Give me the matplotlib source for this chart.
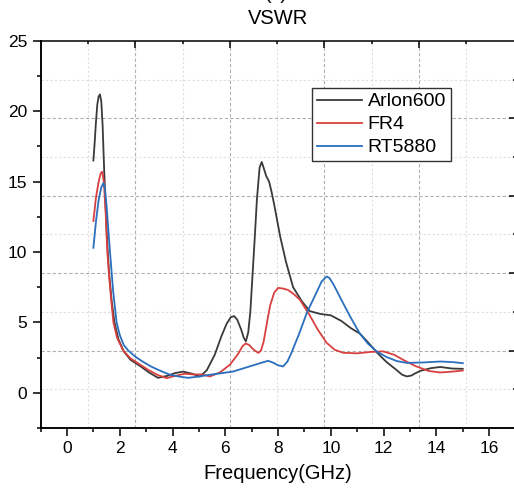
import numpy as np
import matplotlib.pyplot as plt

plt.rcParams['font.family'] = ['Liberation Sans', 'DejaVu Sans']

# VSWR curves (frequency in GHz)
arlon_f = [1.0, 1.05, 1.1, 1.15, 1.2, 1.25, 1.3, 1.35, 1.4, 1.45, 1.5, 1.55, 1.6, 1.7,
           1.8, 1.95, 2.15, 2.4, 2.77, 3.1, 3.45, 3.8, 4.1, 4.4, 4.75, 5.04, 5.3,
           5.6, 5.85, 6.05, 6.2, 6.33, 6.45, 6.6, 6.7, 6.78, 6.87, 6.95, 7.1, 7.2,
           7.3, 7.38, 7.45, 7.55, 7.66, 7.75, 7.85, 8.08, 8.3, 8.57, 8.9, 9.2,
           9.6, 10.0, 10.4, 10.75, 11.1, 11.45, 11.75, 12.1, 12.5, 12.7, 12.88,
           13.05, 13.2, 13.4, 13.8, 14.15, 14.6, 15.0]
arlon_v = [16.5, 17.8, 19.3, 20.5, 21.05, 21.2, 20.7, 19.0, 16.3, 13.8, 11.6, 9.8, 8.4, 6.4,
           5.0, 3.8, 2.95, 2.35, 1.9, 1.45, 1.06, 1.2, 1.4, 1.5, 1.35, 1.15, 1.6,
           2.7, 4.0, 4.9, 5.35, 5.45, 5.2, 4.5, 3.9, 3.65, 4.3, 5.8, 10.5, 13.8,
           16.0, 16.4, 16.0, 15.4, 15.0, 14.3, 13.4, 11.1, 9.3, 7.5, 6.5, 5.8,
           5.6, 5.5, 5.1, 4.6, 4.2, 3.5, 2.85, 2.2, 1.6, 1.28, 1.16,
           1.22, 1.38, 1.56, 1.75, 1.83, 1.72, 1.7]

fr4_f = [1.0, 1.1, 1.2, 1.28, 1.34, 1.4, 1.46, 1.53, 1.6, 1.68, 1.76, 1.9, 2.13, 2.4,
         2.77, 3.1, 3.45, 3.78, 4.1, 4.47, 4.8, 5.1, 5.42, 5.8, 6.18, 6.5, 6.65,
         6.77, 6.9, 7.05, 7.25, 7.35, 7.45, 7.6, 7.7, 7.85, 8.0, 8.2, 8.38, 8.6,
         8.83, 9.2, 9.5, 9.84, 10.15, 10.47, 11.0, 11.5, 11.98, 12.4, 12.74, 13.2,
         13.7, 14.14, 14.6, 15.0]
fr4_v = [12.2, 13.9, 15.0, 15.6, 15.7, 14.9, 13.0, 10.0, 8.2, 6.5, 5.0, 3.9, 3.0, 2.45,
         2.0, 1.6, 1.25, 1.04, 1.2, 1.35, 1.3, 1.3, 1.16, 1.45, 2.0, 2.8, 3.3,
         3.5, 3.4, 3.1, 2.83, 3.0, 3.6, 5.2, 6.2, 7.1, 7.45, 7.4, 7.3, 7.0,
         6.6, 5.5, 4.5, 3.55, 3.05, 2.84, 2.8, 2.9, 2.94, 2.7, 2.34, 1.9,
         1.55, 1.44, 1.5, 1.58]

rt_f = [1.0, 1.1, 1.2, 1.3, 1.38, 1.44, 1.5, 1.57, 1.63, 1.75, 1.88, 2.0, 2.15, 2.32,
        2.6, 2.88, 3.2, 3.55, 3.9, 4.25, 4.59, 5.0, 5.42, 5.9, 6.3, 6.8, 7.32,
        7.62, 7.8, 8.0, 8.19, 8.35, 8.5, 8.8, 9.09, 9.45, 9.65, 9.84, 9.95, 10.1,
        10.4, 10.73, 11.1, 11.4, 11.74, 12.1, 12.5, 12.88, 13.5, 14.14, 14.6, 15.0]
rt_v = [10.3, 12.2, 13.7, 14.6, 14.9, 14.5, 13.3, 11.5, 10.0, 7.2, 5.0, 4.1, 3.4, 3.0,
        2.55, 2.2, 1.85, 1.55, 1.28, 1.15, 1.06, 1.15, 1.28, 1.4, 1.51, 1.8, 2.1,
        2.27, 2.15, 1.95, 1.87, 2.2, 2.8, 4.2, 5.68, 7.1, 7.9, 8.26, 8.15, 7.7,
        6.6, 5.42, 4.2, 3.5, 2.93, 2.55, 2.25, 2.12, 2.15, 2.22, 2.18, 2.1]

fig = plt.figure(figsize=(5.14, 4.93), dpi=100)
rect = [0.079, 0.132, 0.924, 0.785]

# background layer: grid + inward top/right ticks (Origin-style overlay)
ax2 = fig.add_axes(rect)
ax2.set_xlim(0, 10.04)
ax2.set_ylim(0, 10)
ax2.set_xticks([2, 4, 6, 8])
ax2.set_xticks([1, 3, 5, 7, 9], minor=True)
ax2.set_yticks([2, 4, 6, 8])
ax2.set_yticks([1, 3, 5, 7, 9], minor=True)
ax2.tick_params(which='both', direction='in', top=True, right=True,
                bottom=False, left=False, labeltop=False, labelright=False,
                labelbottom=False, labelleft=False, width=1.1)
ax2.tick_params(which='major', length=5)
ax2.tick_params(which='minor', length=2.5)
ax2.grid(which='major', color='#b0b0b0', linestyle=(0, (3, 2)), linewidth=0.8)
ax2.grid(which='minor', color='#dedede', linestyle=(0, (2, 2)), linewidth=0.8)
for s in ax2.spines.values():
    s.set_linewidth(1.1)

ax = fig.add_axes(rect)
ax.patch.set_visible(False)
ax.plot(arlon_f, arlon_v, color='#3a3a3a', lw=1.3, label='Arlon600')
ax.plot(fr4_f, fr4_v, color='#d8403f', lw=1.3, label='FR4')
ax.plot(rt_f, rt_v, color='#2a6fbd', lw=1.3, label='RT5880')

ax.set_xlim(-1, 17)
ax.set_ylim(-2.5, 25)
ax.set_xticks(np.arange(0, 17, 2))
ax.set_xticks(np.arange(-1, 17, 1), minor=True)
ax.set_yticks(np.arange(0, 26, 5))
ax.set_yticks(np.arange(-2.5, 25, 2.5), minor=True)
ax.tick_params(which='both', direction='out', labelsize=12.5, width=1.1, pad=4)
ax.tick_params(which='major', length=5.5)
ax.tick_params(which='minor', length=3)
for side in ['top', 'right']:
    ax.spines[side].set_visible(False)
for side in ['left', 'bottom']:
    ax.spines[side].set_linewidth(1.1)

ax.set_xlabel('Frequency(GHz)', fontsize=14.5, labelpad=6)
ax.set_title('VSWR', fontsize=14.5, pad=12)
fig.text(0.538, 1.012, '(c)', fontsize=14, ha='center', va='center')

leg = ax.legend(loc='upper left', bbox_to_anchor=(0.5716, 0.8786), borderaxespad=0,
                fontsize=14, frameon=True, fancybox=False, edgecolor='#333333',
                framealpha=1, handlelength=2.3, handletextpad=0.3,
                labelspacing=0.28, borderpad=0.25)
leg.get_frame().set_linewidth(1.0)

fig.savefig('out.png', dpi=100)
